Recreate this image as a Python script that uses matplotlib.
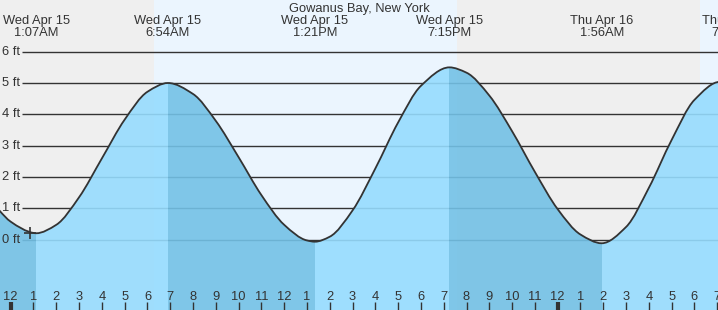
import matplotlib
matplotlib.use('Agg')
import matplotlib.pyplot as plt
from matplotlib.path import Path
from matplotlib.patches import PathPatch

plt.rcParams['font.family'] = ['Liberation Sans', 'DejaVu Sans']

# tide height readings (hours since midnight Wed Apr 15, feet)
hours = [-1, -0.5, 0, 1, 1.117, 2, 3, 4, 5, 6, 6.9, 8, 9, 10, 11, 12, 13, 13.35,
         14, 15, 16, 17, 18, 19.25, 20, 21, 22, 23, 24, 25, 25.933,
         27, 28, 29, 30, 31.13, 32]
heights = [1.40, 0.93, 0.57, 0.21, 0.20, 0.47, 1.35, 2.59, 3.83, 4.72, 5.00, 4.65, 3.79,
           2.63, 1.42, 0.47, -0.03, -0.07, 0.09, 0.93, 2.27, 3.74, 4.91, 5.50, 5.33,
           4.60, 3.46, 2.16, 0.97, 0.16, -0.12, 0.40, 1.65, 3.18, 4.46, 5.04, 4.90]

# high / low tides
tide_times = [1.117, 6.9, 13.35, 19.25, 25.933, 31.74]
tide_days = ['Wed Apr 15', 'Wed Apr 15', 'Wed Apr 15', 'Wed Apr 15', 'Thu Apr 16', 'Thu Apr 16']
tide_clock = ['1:07AM', '6:54AM', '1:21PM', '7:15PM', '1:56AM', '7:44AM']

# daylight
sunrise = [6.29, 30.23]
sunset = [19.58, 40]

now_time = 0.85
now_height = 0.22

hour_ticks = list(range(0, 32))
hour_labels = ['12', '1', '2', '3', '4', '5', '6', '7', '8', '9', '10', '11',
               '12', '1', '2', '3', '4', '5', '6', '7', '8', '9', '10', '11',
               '12', '1', '2', '3', '4', '5', '6', '7']
ft_levels = [0, 1, 2, 3, 4, 5, 6]

txt = '#333333'
light_water = '#96dcfe'
dark_water = '#73c1e6'


def smooth_path(xs, ys):
    # monotone cubic (pchip style) segments, drawn as bezier curves
    n = len(xs)
    d = [(ys[i + 1] - ys[i]) / (xs[i + 1] - xs[i]) for i in range(n - 1)]
    m = [d[0]]
    for k in range(1, n - 1):
        if d[k - 1] * d[k] <= 0:
            m.append(0.0)
        else:
            h0 = xs[k] - xs[k - 1]
            h1 = xs[k + 1] - xs[k]
            w1 = 2 * h1 + h0
            w2 = h1 + 2 * h0
            m.append((w1 + w2) / (w1 / d[k - 1] + w2 / d[k]))
    m.append(d[-1])
    verts = [(xs[0], ys[0])]
    codes = [Path.MOVETO]
    for i in range(n - 1):
        dx = xs[i + 1] - xs[i]
        verts += [(xs[i] + dx / 3, ys[i] + m[i] * dx / 3),
                  (xs[i + 1] - dx / 3, ys[i + 1] - m[i + 1] * dx / 3),
                  (xs[i + 1], ys[i + 1])]
        codes += [Path.CURVE4] * 3
    return verts, codes


fig = plt.figure(figsize=(7.18, 3.10), dpi=100)
fig.patch.set_facecolor('#efefef')
ax = fig.add_axes([0, 0, 1, 1])
ax.set_axis_off()
ax.set_xlim(-0.4695, 31.035)
ax.set_ylim(-2.252, 7.652)

for s, e in zip(sunrise, sunset):
    ax.axvspan(s, e, color='#ebf5fe', lw=0, zorder=0)

ax.hlines(ft_levels, 0.5, 32, color='#333333', lw=1.0, zorder=1)
for f in ft_levels:
    ax.text(-0.382, f, '%d ft' % f, ha='left', va='center', fontsize=9.3, color=txt, zorder=5)

verts, codes = smooth_path(hours, heights)

# water region, used as clip for the coloured bands
water = PathPatch(Path(verts + [(hours[-1], -3), (hours[0], -3), (hours[0], heights[0])],
                       codes + [Path.LINETO, Path.LINETO, Path.CLOSEPOLY]),
                  fill=False, lw=0, zorder=2)
ax.add_patch(water)

# darker while falling, lighter while rising
bounds = [-2] + tide_times[:5] + [33]
for i in range(len(bounds) - 1):
    col = dark_water if i % 2 == 0 else light_water
    band = ax.axvspan(bounds[i], bounds[i + 1], color=col, lw=0, alpha=0.9, zorder=2)
    band.set_clip_path(water)

ax.add_patch(PathPatch(Path(verts, codes), fill=False, edgecolor='#333333', lw=1.3, zorder=3))
ax.plot([now_time], [now_height], marker='+', ms=8, mew=1.2, color='#333333', zorder=4)

# hour ticks along the bottom
for h, lab in zip(hour_ticks, hour_labels):
    w = 3 if h % 24 == 0 else 1
    ax.vlines(h, -2.26, -1.997, color='#333333', lw=w, zorder=4)
    ax.text(h, -1.933, lab, ha='center', va='baseline', fontsize=9.3, color=txt, zorder=5)

for t, d, c in zip(tide_times, tide_days, tide_clock):
    ax.text(t, 6.885, d, ha='center', va='baseline', fontsize=9.3, color=txt)
    ax.text(t, 6.502, c, ha='center', va='baseline', fontsize=9.3, color=txt)

ax.text(15.3, 7.284, 'Gowanus Bay, New York', ha='center', va='baseline', fontsize=9.3, color=txt)

fig.savefig('out.png', dpi=100, facecolor=fig.get_facecolor())
